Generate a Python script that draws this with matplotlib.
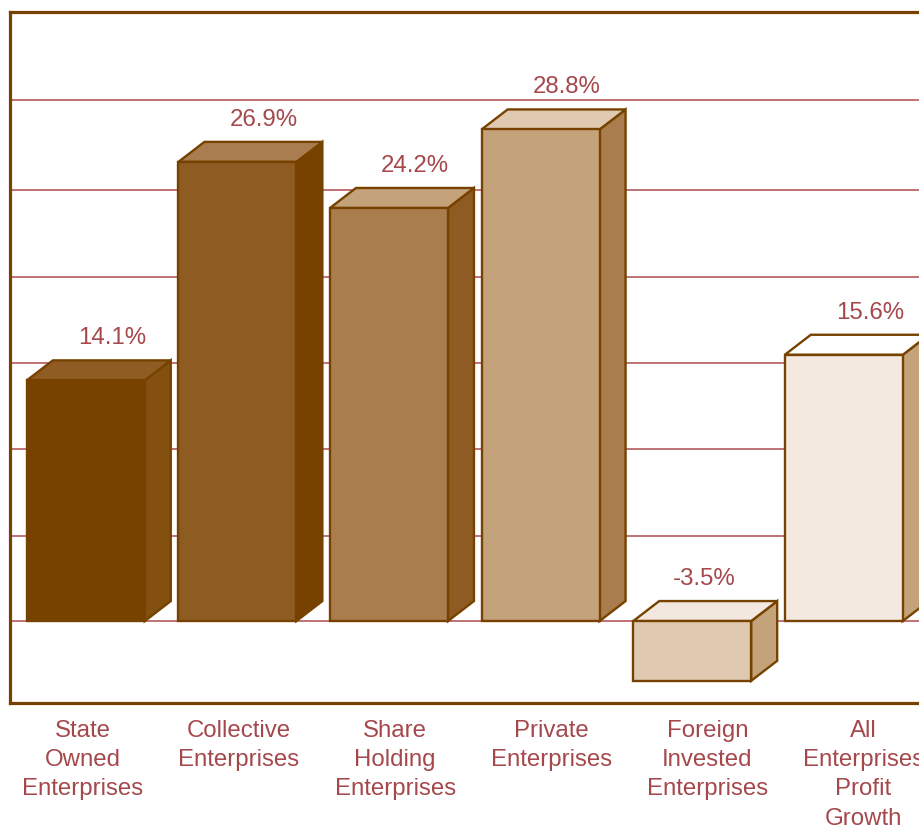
import matplotlib
matplotlib.use("Agg")
import matplotlib.pyplot as plt
from matplotlib.patches import Polygon

plt.rcParams['font.family'] = ['Liberation Sans', 'DejaVu Sans']

# ---- data ----
categories = ["State\nOwned\nEnterprises", "Collective\nEnterprises",
              "Share\nHolding\nEnterprises", "Private\nEnterprises",
              "Foreign\nInvested\nEnterprises", "All\nEnterprises\nProfit\nGrowth"]
values = [14.1, 26.9, 24.2, 28.8, -3.5, 15.6]
value_labels = ["14.1%", "26.9%", "24.2%", "28.8%", "-3.5%", "15.6%"]
grid_values = [0, 5, 10.1, 15.1, 20.15, 25.25, 30.5]

front_colors = ["#774200", "#8e5c23", "#aa7d4f", "#c4a27a", "#dfcab1", "#f4e9e1"]
top_colors = ["#8f5c24", "#a97d4f", "#c4a27a", "#dfc9b0", "#f3e8df", "#ffffff"]
side_colors = ["#83500f", "#774200", "#8e5c23", "#aa7d4f", "#c4a27a", "#c4a27a"]

edge = "#774200"
text_col = "#a5484c"
grid_col = "#b55a5c"

W, H = 920, 825
fig = plt.figure(figsize=(W / 100, H / 100), dpi=100)
ax_left, ax_right, ax_top, ax_bottom = 10, 957.5, 12, 703
ax = fig.add_axes([ax_left / W, 1 - ax_bottom / H,
                   (ax_right - ax_left) / W, (ax_bottom - ax_top) / H])

ax.set_xlim(-0.5, 5.75)
ax.set_ylim(-4.8, 35.68)

# gridlines
for g in grid_values:
    ax.axhline(g, color=grid_col, lw=1.2, zorder=0)

bar_w = 0.778
dx = 26 / 151.6
dy = 20 / 17.07

for i, v in enumerate(values):
    x0 = i - bar_w / 2
    x1 = i + bar_w / 2
    lo, hi = min(0, v), max(0, v)
    # side face
    side = Polygon([(x1, lo), (x1 + dx, lo + dy), (x1 + dx, hi + dy), (x1, hi)],
                   closed=True, facecolor=side_colors[i], edgecolor=edge,
                   lw=1.7, joinstyle='miter', zorder=2)
    ax.add_patch(side)
    # top face
    top = Polygon([(x0, hi), (x0 + dx, hi + dy), (x1 + dx, hi + dy), (x1, hi)],
                  closed=True, facecolor=top_colors[i], edgecolor=edge,
                  lw=1.7, joinstyle='miter', zorder=2)
    ax.add_patch(top)
    # front face
    ax.bar(i, v, width=bar_w, color=front_colors[i], edgecolor=edge,
           linewidth=1.7, zorder=3)
    lx = i + dx * (1.0 if v >= 0 else 0.45)
    ax.annotate(value_labels[i], xy=(lx, hi + dy),
                xytext=(0, 8), textcoords='offset points',
                ha='center', va='bottom', fontsize=17.3, color=text_col, zorder=4)

# category labels (separate spacing)
label_x = [i * 1.03 - 0.02 for i in range(len(categories))]
ax.set_xticks(label_x)
ax.set_xticklabels(categories, fontsize=17.3, color=text_col, linespacing=1.43)
ax.tick_params(axis='x', length=0, pad=12)
ax.set_yticks([])

for s in ['right']:
    ax.spines[s].set_visible(False)
for s in ['left', 'top', 'bottom']:
    ax.spines[s].set_color(edge)
    ax.spines[s].set_linewidth(2.3)

fig.savefig("out.png", dpi=100)
